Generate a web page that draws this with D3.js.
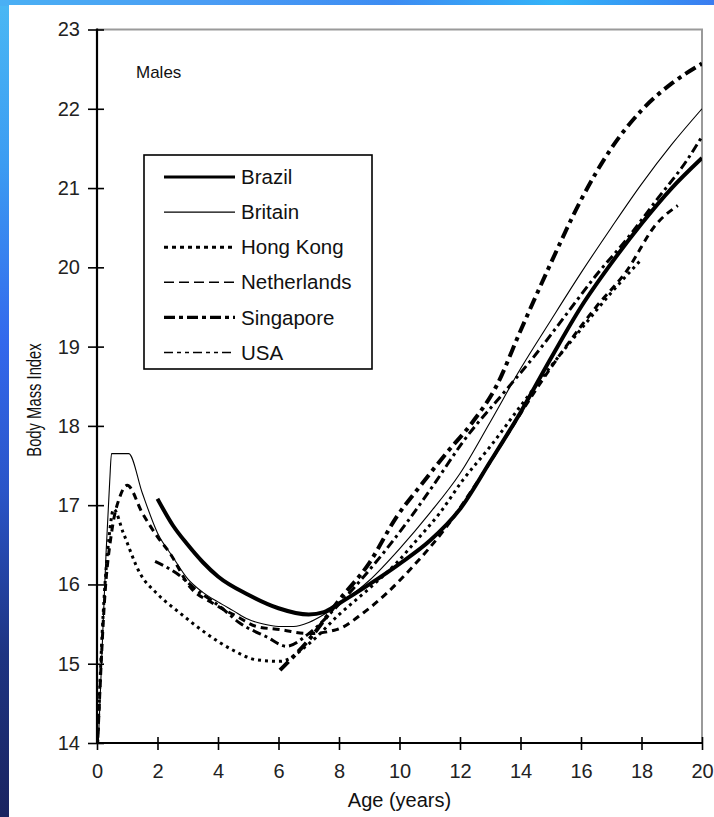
<!DOCTYPE html>
<html><head><meta charset="utf-8">
<script src="https://cdn.jsdelivr.net/npm/d3@7/dist/d3.min.js"></script>
<style>
html,body{margin:0;padding:0;}
body{width:714px;height:817px;overflow:hidden;}
svg{display:block;font-family:"Liberation Sans",Arial,sans-serif;}
</style></head>
<body>
<svg id="chart" width="714" height="817"></svg>
<script>
// ---- data ----
const xTicks = [0,2,4,6,8,10,12,14,16,18,20];
const yTicks = [14,15,16,17,18,19,20,21,22,23];
const countries = ["Brazil","Britain","Hong Kong","Netherlands","Singapore","USA"];

const brazilAge = [2,2.5,3,3.5,4,5,6,7,7.5,8,9,10,11,12,13,14,15,16,17,18,19,20];
const brazilBMI = [17.08,16.75,16.5,16.28,16.1,15.87,15.7,15.62,15.65,15.76,16.0,16.26,16.55,16.95,17.55,18.17,18.85,19.5,20.05,20.55,21.0,21.38];

const britainAge = [0,0.15,0.3,0.42,0.48,1.05,1.5,2,2.5,3,3.5,4,4.5,5,5.5,6,6.5,7,7.5,8,9,10,11,12,13,14,15,16,17,18,19,20];
const britainBMI = [13.6,15.0,16.4,17.3,17.65,17.65,17.15,16.65,16.35,16.07,15.9,15.78,15.67,15.56,15.5,15.47,15.47,15.52,15.62,15.75,16.05,16.45,16.9,17.4,18.05,18.72,19.33,19.93,20.5,21.05,21.55,22.0];

const hongKongAge = [0,0.2,0.4,0.55,0.87,1.42,1.97,2.74,3.62,4.5,5.27,6.05,7,8,9,9.9,10.57,11.33,12.1,13,14,15,16,17,18];
const hongKongBMI = [13.8,15.6,16.6,16.95,16.65,16.14,15.89,15.64,15.38,15.17,15.05,15.03,15.25,15.62,15.95,16.27,16.56,16.9,17.32,17.74,18.25,18.75,19.22,19.68,20.1];

const netherlandsAge = [0,0.25,0.5,0.75,1.0,1.5,2,2.4,3.07,3.84,4.61,5.27,6.05,7,7.92,8.8,9.58,10.45,11.5,12.5,13.5,14.5,15.5,16.5,17.5,18.5,19.2];
const netherlandsBMI = [13.8,15.8,16.7,17.1,17.25,16.9,16.6,16.4,15.97,15.76,15.6,15.47,15.43,15.38,15.43,15.64,15.89,16.23,16.7,17.25,17.85,18.45,19.0,19.5,19.95,20.55,20.78];

const singaporeAge = [6.05,7,8,9,9.9,10.68,11.56,12.4,13.2,14,15,16,17,18,19,20];
const singaporeBMI = [14.92,15.3,15.8,16.27,16.85,17.24,17.66,18.04,18.5,19.2,20.05,20.85,21.5,21.98,22.32,22.57];

const usaAge = [1.92,2.63,3.29,4.07,4.73,5.6,6.27,7,8,9,10.24,11.1,12.1,13.54,14.5,15.5,16.5,17.5,18.5,19.5,20];
const usaBMI = [16.29,16.14,15.93,15.72,15.51,15.34,15.22,15.38,15.75,16.18,16.78,17.24,17.8,18.46,18.9,19.4,19.9,20.35,20.85,21.35,21.65];

const seriesAges = [brazilAge,britainAge,hongKongAge,netherlandsAge,singaporeAge,usaAge];
const seriesBMI  = [brazilBMI,britainBMI,hongKongBMI,netherlandsBMI,singaporeBMI,usaBMI];

// ---- styles: plot line and legend line ----
const plotStyles = [
  {w:4,   dash:null},
  {w:1.1, dash:null},
  {w:3,   dash:"3,4"},
  {w:3,   dash:"7,5"},
  {w:4,   dash:"12,5,4,5"},
  {w:3,   dash:"9,4,3,4"}
];
const legendStyles = [
  {w:3.2, dash:null},
  {w:1.1, dash:null},
  {w:3,   dash:"4,4"},
  {w:1.6, dash:"10,5"},
  {w:3.2, dash:"11,4,4,4"},
  {w:1.6, dash:"9,4,4,4,4,4"}
];

const svg = d3.select("#chart");
const W=714,H=817;

// background
const defs = svg.append("defs");
const gl = defs.append("linearGradient").attr("id","gLeft").attr("x1",0).attr("y1",0).attr("x2",0).attr("y2",1);
[[0,"#4ab8f4"],[0.2,"#3c9cf2"],[0.42,"#3368ec"],[0.6,"#2a55c8"],[0.8,"#1e3482"],[1,"#1a2460"]].forEach(s=>gl.append("stop").attr("offset",s[0]).attr("stop-color",s[1]));
const gt = defs.append("linearGradient").attr("id","gTop").attr("x1",0).attr("y1",0).attr("x2",1).attr("y2",0);
[[0,"#4ab0f4"],[0.3,"#4a9cf4"],[0.55,"#3d8cf2"],[0.78,"#33b4f8"],[1,"#3a7cf0"]].forEach(s=>gt.append("stop").attr("offset",s[0]).attr("stop-color",s[1]));
svg.append("rect").attr("x",0).attr("y",0).attr("width",W).attr("height",H).attr("fill","url(#gLeft)");
svg.append("rect").attr("x",0).attr("y",0).attr("width",W).attr("height",6).attr("fill","url(#gTop)");
svg.append("rect").attr("x",9).attr("y",5).attr("width",W-9).attr("height",H-5).attr("fill","#fff");

const x = d3.scaleLinear().domain([0,20]).range([97,702]);
const y = d3.scaleLinear().domain([14,23]).range([743,29.5]);

defs.append("clipPath").attr("id","plotClip").append("rect")
  .attr("x",x(0)).attr("y",y(23)).attr("width",x(20)-x(0)).attr("height",y(14)-y(23));

// frame (top and right, gray)
svg.append("path").attr("d",`M${x(0)},${y(23)}H${x(20)}V${y(14)}`)
  .attr("fill","none").attr("stroke","#9a9a9a").attr("stroke-width",2);

// lines
const line = d3.line().x(d=>x(d[0])).y(d=>y(d[1])).curve(d3.curveMonotoneX);
const gLines = svg.append("g").attr("clip-path","url(#plotClip)");
countries.forEach((c,i)=>{
  const pts = seriesAges[i].map((a,j)=>[a,seriesBMI[i][j]]);
  gLines.append("path").datum(pts).attr("d",line)
    .attr("fill","none").attr("stroke","#000")
    .attr("stroke-width",plotStyles[i].w)
    .attr("stroke-dasharray",plotStyles[i].dash)
    .attr("stroke-linejoin","round");
});

// axes
const fs = 20;
const ax = svg.append("g").attr("transform",`translate(${x(0)},0)`)
  .call(d3.axisLeft(y).tickValues(yTicks).tickFormat(d3.format("d")).tickSize(9).tickPadding(8));
ax.select(".domain").remove();
ax.selectAll(".tick line").attr("x1",7).attr("x2",-9).attr("stroke","#000").attr("stroke-width",1.6);
ax.selectAll(".tick text").attr("font-size",fs).attr("fill","#222").attr("font-family","Liberation Sans, Arial, sans-serif");

const bx = svg.append("g").attr("transform",`translate(0,${y(14)})`)
  .call(d3.axisBottom(x).tickValues(xTicks).tickFormat(d3.format("d")).tickSize(7).tickPadding(14));
bx.select(".domain").remove();
bx.selectAll(".tick line").attr("y1",-6).attr("y2",7).attr("stroke","#000").attr("stroke-width",1.6);
bx.selectAll(".tick text").attr("font-size",fs).attr("fill","#222").attr("font-family","Liberation Sans, Arial, sans-serif");

// axis lines
svg.append("line").attr("x1",x(0)).attr("x2",x(0)).attr("y1",y(23)-1).attr("y2",y(14)+1).attr("stroke","#000").attr("stroke-width",2.2);
svg.append("line").attr("x1",x(0)-1).attr("x2",x(20)+1).attr("y1",y(14)).attr("y2",y(14)).attr("stroke","#000").attr("stroke-width",2.2);

// axis titles
svg.append("text").attr("x",(x(0)+x(20))/2).attr("y",807).attr("text-anchor","middle")
  .attr("font-size",20).attr("fill","#111").text("Age (years)");
svg.append("text").attr("transform",`translate(41,400) rotate(-90) scale(0.74,1)`)
  .attr("text-anchor","middle").attr("font-size",20).attr("fill","#111").text("Body Mass Index");

// Males
svg.append("text").attr("x",136).attr("y",78).attr("font-size",17).attr("fill","#111").text("Males");

// legend
const lg = svg.append("g");
lg.append("rect").attr("x",144).attr("y",155).attr("width",228).attr("height",214)
  .attr("fill","#fff").attr("stroke","#000").attr("stroke-width",1.6);
countries.forEach((c,i)=>{
  const yy = 177 + i*35.1;
  lg.append("line").attr("x1",164).attr("x2",235).attr("y1",yy).attr("y2",yy)
    .attr("stroke","#000").attr("stroke-width",legendStyles[i].w).attr("stroke-dasharray",legendStyles[i].dash);
  lg.append("text").attr("x",241).attr("y",yy).attr("dy","0.35em").attr("font-size",20.5).attr("fill","#111").text(c);
});
</script>
</body></html>
